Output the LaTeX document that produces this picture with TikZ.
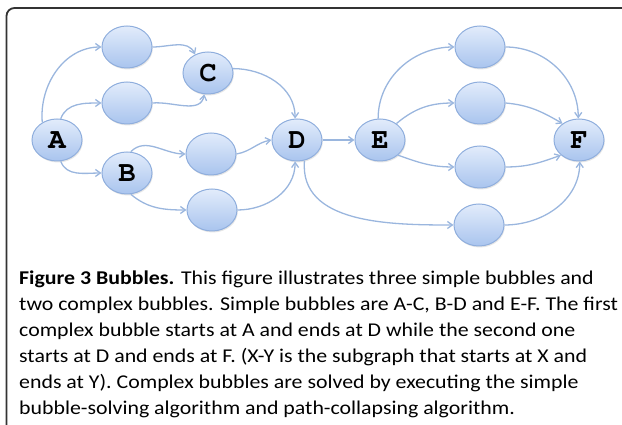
\documentclass[tikz,border=0pt]{standalone}
\usepackage[T1]{fontenc}
\usepackage{fontspec}
\usepackage{tikz}
\usetikzlibrary{arrows.meta,positioning,shapes.geometric,shadows}
\setmainfont{Carlito}[FakeStretch=1.12]
\newcommand\bubblefont{\usefont{T1}{pcr}{b}{n}\fontsize{29}{29}\selectfont}
\definecolor{bubbletop}{HTML}{E2ECFB}
\definecolor{bubblebottom}{HTML}{A9C4EE}
\definecolor{bubbleline}{HTML}{8FAEDD}
\definecolor{edgeblue}{HTML}{9AB6DE}
\definecolor{framegray}{HTML}{333333}
\tikzset{
  bubble/.style = {
    ellipse,
    draw=bubbleline,
    line width=1pt,
    top color=bubbletop,
    bottom color=bubblebottom,
    minimum width=50pt,
    minimum height=42pt,
    inner sep=0pt,
    font=\bubblefont,
    drop shadow={opacity=0.2, shadow xshift=0.8pt, shadow yshift=-1.5pt}
  },
  bubblearrow/.style = {
    -{Straight Barb[length=5pt,width=7pt]},
    draw=edgeblue,
    line width=1.3pt
  },
  caption/.style = {
    anchor=base west,
    align=left,
    inner sep=0pt,
    font=\fontsize{19.5}{26}\selectfont
  }
}
\begin{document}
\begin{tikzpicture}[x=1pt,y=1pt]
    \useasboundingbox (0,0) rectangle (622,425);
    \draw[framegray, line width=1.8pt, rounded corners=8pt] (6.5,-20) -- (6.5,417) -- (660,417);
    \node[bubble] (a) at (57,285) {A};
    \node[bubble] (ac1) at (127,378) {};
    \node[bubble] (ac2) at (127,322) {};
    \node[bubble] (c) at (208,352) {C};
    \node[bubble] (b) at (127,252) {B};
    \node[bubble] (bd1) at (211,271) {};
    \node[bubble] (bd2) at (212,215) {};
    \node[bubble] (d) at (297,285) {D};
    \node[bubble] (e) at (380,285) {E};
    \node[bubble] (ef1) at (480,378) {};
    \node[bubble] (ef2) at (480,322) {};
    \node[bubble] (ef3) at (480,258) {};
    \node[bubble] (ef4) at (479,200) {};
    \node[bubble] (f) at (579,285) {F};
    \draw[bubblearrow] (a.130) to[out=95,in=180] (ac1.west);
    \draw[bubblearrow] (a.80) to[out=70,in=180] (ac2.west);
    \draw[bubblearrow] (a.-80) to[out=-70,in=180] (b.west);
    \draw[bubblearrow] (ac1.east) to[out=0,in=115] (c.125);
    \draw[bubblearrow] (ac2.east) to[out=5,in=-100] (c.-100);
    \draw[bubblearrow] (c.10) to[out=0,in=90] (d.95);
    \draw[bubblearrow] (b.80) to[out=45,in=180] (bd1.west);
    \draw[bubblearrow] (b.-80) to[out=-40,in=180] (bd2.west);
    \draw[bubblearrow] (bd1.east) to[out=10,in=190] (d.west);
    \draw[bubblearrow] (bd2.east) to[out=0,in=-90] (d.-95);
    \draw[bubblearrow] (d) -- (e);
    \draw[bubblearrow] (d.-70) to[out=-95,in=180] (ef4.west);
    \draw[bubblearrow] (e.95) to[out=90,in=180] (ef1.west);
    \draw[bubblearrow] (e.45) to[out=40,in=180] (ef2.west);
    \draw[bubblearrow] (e.-40) to[out=-20,in=180] (ef3.west);
    \draw[bubblearrow] (ef1.east) to[out=0,in=90] (f.92);
    \draw[bubblearrow] (ef2.east) to[out=-5,in=150] (f.135);
    \draw[bubblearrow] (ef3.east) to[out=0,in=200] (f.220);
    \draw[bubblearrow] (ef4.east) to[out=0,in=-90] (f.-88);
    \node[caption] (text) at (19,10) {\textbf{Figure 3 Bubbles.} This figure illustrates three simple bubbles and\\
      two complex bubbles. Simple bubbles are A-C, B-D and E-F. The first\\
      complex bubble starts at A and ends at D while the second one\\
      starts at D and ends at F. (X-Y is the subgraph that starts at X and\\
      ends at Y). Complex bubbles are solved by executing the simple\\
      bubble-solving algorithm and path-collapsing algorithm.};
  \end{tikzpicture}
\end{document}
